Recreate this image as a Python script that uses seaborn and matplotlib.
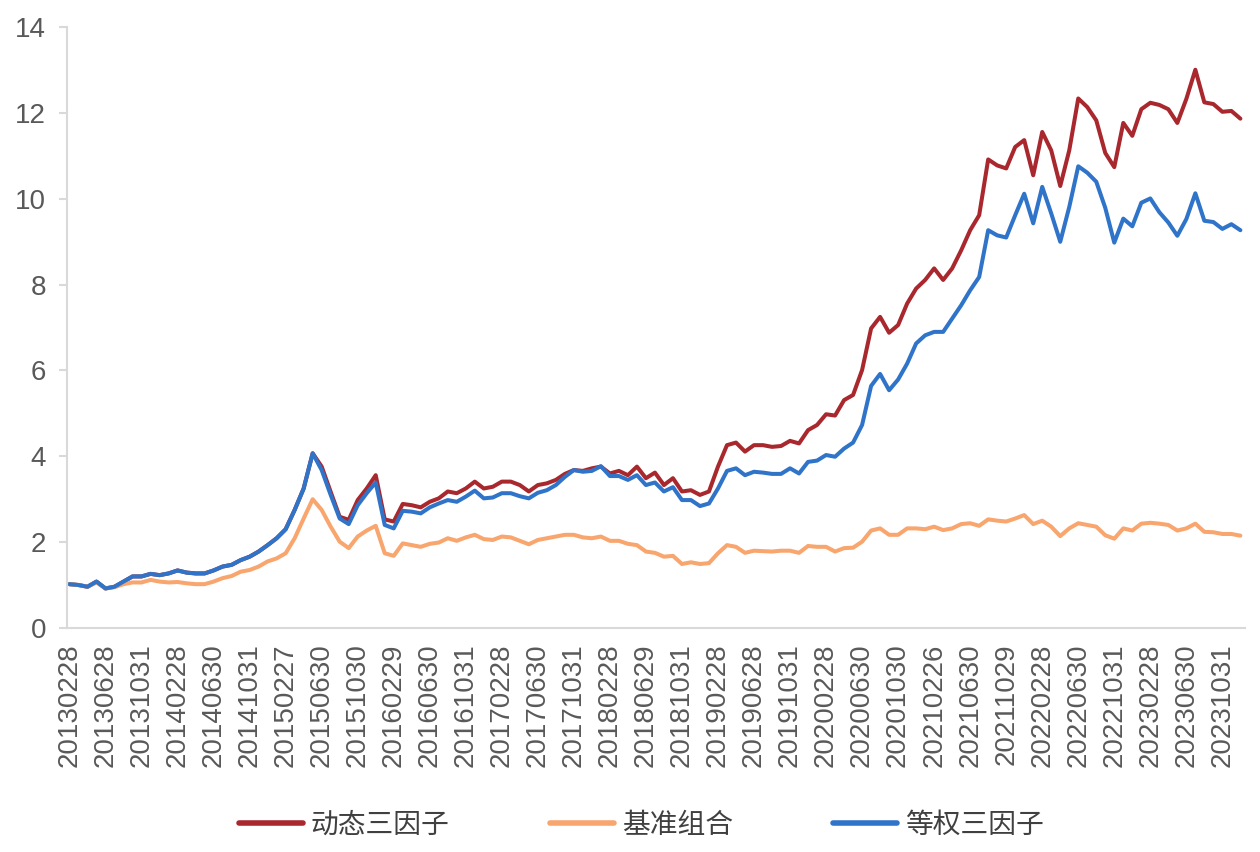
import numpy as np
import pandas as pd
import matplotlib
matplotlib.use("Agg")
import matplotlib.pyplot as plt
import seaborn as sns

tick_labels = ["20130228", "20130628", "20131031", "20140228", "20140630", "20141031",
               "20150227", "20150630", "20151030", "20160229", "20160630", "20161031",
               "20170228", "20170630", "20171031", "20180228", "20180629", "20181031",
               "20190228", "20190628", "20191031", "20200228", "20200630", "20201030",
               "20210226", "20210630", "20211029", "20220228", "20220630", "20221031",
               "20230228", "20230630", "20231031"]

series_names = ["动态三因子", "基准组合", "等权三因子"]
series_colors = ["#A8282E", "#F8A56E", "#2F74C9"]

dynamic = [1.02, 1.00, 0.96, 1.08, 0.92, 0.96, 1.08, 1.20, 1.20, 1.26,
           1.23, 1.27, 1.34, 1.29, 1.27, 1.27, 1.34, 1.43, 1.47, 1.58,
           1.66, 1.78, 1.93, 2.09, 2.30, 2.75, 3.25, 4.07, 3.76, 3.17,
           2.59, 2.52, 2.98, 3.25, 3.56, 2.53, 2.48, 2.89, 2.86, 2.81,
           2.94, 3.02, 3.18, 3.14, 3.25, 3.41, 3.25, 3.29, 3.41, 3.41,
           3.33, 3.18, 3.33, 3.37, 3.45, 3.59, 3.68, 3.66, 3.72, 3.76,
           3.60, 3.66, 3.56, 3.76, 3.49, 3.62, 3.33, 3.49, 3.18, 3.21,
           3.10, 3.18, 3.76, 4.26, 4.32, 4.11, 4.26, 4.26, 4.22, 4.24,
           4.36, 4.30, 4.61, 4.73, 4.98, 4.95, 5.31, 5.43, 6.01, 6.98,
           7.25, 6.88, 7.06, 7.56, 7.91, 8.11, 8.38, 8.11, 8.38, 8.80,
           9.27, 9.62, 10.92, 10.78, 10.71, 11.21, 11.37, 10.55, 11.56, 11.13,
           10.30, 11.13, 12.34, 12.14, 11.83, 11.07, 10.74, 11.77, 11.47, 12.09,
           12.24, 12.19, 12.09, 11.77, 12.33, 13.01, 12.25, 12.21, 12.03, 12.05,
           11.87]

benchmark = [1.02, 1.00, 0.96, 1.06, 0.92, 0.95, 1.02, 1.06, 1.06, 1.12,
             1.08, 1.06, 1.07, 1.04, 1.02, 1.02, 1.08, 1.16, 1.21, 1.31,
             1.35, 1.43, 1.55, 1.62, 1.74, 2.09, 2.55, 3.00, 2.75, 2.36,
             2.01, 1.86, 2.13, 2.27, 2.38, 1.74, 1.68, 1.97, 1.93, 1.89,
             1.96, 1.99, 2.09, 2.03, 2.11, 2.17, 2.07, 2.05, 2.13, 2.11,
             2.03, 1.95, 2.05, 2.09, 2.13, 2.17, 2.17, 2.11, 2.09, 2.13,
             2.03, 2.03, 1.96, 1.93, 1.78, 1.75, 1.66, 1.68, 1.49, 1.53,
             1.49, 1.51, 1.74, 1.93, 1.89, 1.75, 1.80, 1.79, 1.78, 1.80,
             1.80, 1.75, 1.91, 1.89, 1.89, 1.78, 1.86, 1.87, 2.01, 2.27,
             2.32, 2.17, 2.17, 2.32, 2.32, 2.30, 2.36, 2.28, 2.32, 2.42,
             2.44, 2.38, 2.53, 2.50, 2.48, 2.55, 2.63, 2.42, 2.50, 2.36,
             2.14, 2.32, 2.44, 2.40, 2.36, 2.16, 2.08, 2.32, 2.27, 2.43,
             2.45, 2.43, 2.40, 2.27, 2.32, 2.43, 2.24, 2.23, 2.19, 2.19,
             2.15]

equal = [1.02, 1.00, 0.96, 1.08, 0.92, 0.96, 1.08, 1.20, 1.20, 1.26,
         1.23, 1.27, 1.34, 1.29, 1.27, 1.27, 1.34, 1.43, 1.47, 1.58,
         1.66, 1.78, 1.93, 2.09, 2.30, 2.75, 3.25, 4.07, 3.68, 3.10,
         2.55, 2.42, 2.86, 3.14, 3.39, 2.40, 2.32, 2.73, 2.71, 2.67,
         2.81, 2.90, 2.98, 2.94, 3.06, 3.20, 3.02, 3.04, 3.14, 3.14,
         3.07, 3.02, 3.15, 3.21, 3.33, 3.52, 3.68, 3.64, 3.66, 3.77,
         3.54, 3.54, 3.45, 3.56, 3.33, 3.39, 3.18, 3.28, 2.98, 2.98,
         2.84, 2.90, 3.25, 3.66, 3.72, 3.56, 3.64, 3.62, 3.59, 3.59,
         3.72, 3.60, 3.87, 3.90, 4.03, 3.99, 4.18, 4.32, 4.73, 5.64,
         5.92, 5.54, 5.79, 6.16, 6.63, 6.82, 6.90, 6.90, 7.21, 7.52,
         7.87, 8.18, 9.27, 9.15, 9.10, 9.62, 10.12, 9.43, 10.28, 9.66,
         9.00, 9.81, 10.76, 10.61, 10.40, 9.79, 8.98, 9.54, 9.36, 9.91,
         10.01, 9.69, 9.45, 9.14, 9.53, 10.13, 9.49, 9.46, 9.30, 9.41,
         9.27]

y_ticks = [0, 2, 4, 6, 8, 10, 12, 14]

sns.set_theme(style="white")
plt.rcParams['font.family'] = ['Liberation Sans', 'Noto Sans CJK SC', 'DejaVu Sans']

n = len(dynamic)
df = pd.DataFrame({"idx": np.arange(n),
                   series_names[0]: dynamic,
                   series_names[1]: benchmark,
                   series_names[2]: equal})
long = df.melt(id_vars="idx", var_name="series", value_name="value")

fig = plt.figure(figsize=(12.6, 8.52), dpi=100)
ax = fig.add_axes([0.053, 0.263, 0.935, 0.705])

sns.lineplot(data=long, x="idx", y="value", hue="series",
             hue_order=series_names, palette=series_colors,
             linewidth=2.9, ax=ax, legend=False)

ax.set_xlim(-0.3, n - 0.5)
ax.set_ylim(0, 14)
ax.set_yticks(y_ticks)
ax.set_yticklabels([str(v) for v in y_ticks])
ax.set_xticks(np.arange(0, 4 * len(tick_labels), 4))
ax.set_xticklabels(tick_labels, rotation=90)
ax.set_xlabel("")
ax.set_ylabel("")

for s in ["top", "right"]:
    ax.spines[s].set_visible(False)
for s in ["left", "bottom"]:
    ax.spines[s].set_color("#D9D9D9")
    ax.spines[s].set_linewidth(1.5)

ax.tick_params(axis="y", length=6, width=1.5, color="#D9D9D9", pad=9,
               labelsize=20, labelcolor="#595959", left=True)
ax.tick_params(axis="x", length=0, pad=11, labelsize=20, labelcolor="#595959")

handles = [plt.Line2D([0], [0], color=c, linewidth=4) for c in series_colors]
fig.legend(handles, series_names, loc="center", bbox_to_anchor=(0.509, 0.032),
           ncol=3, frameon=False, handlelength=2.3, handletextpad=0.3,
           columnspacing=3.6,
           prop={"family": ["Noto Sans CJK SC", "DejaVu Sans"], "size": 20},
           labelcolor="#404040")

fig.savefig("out.png", dpi=100)
